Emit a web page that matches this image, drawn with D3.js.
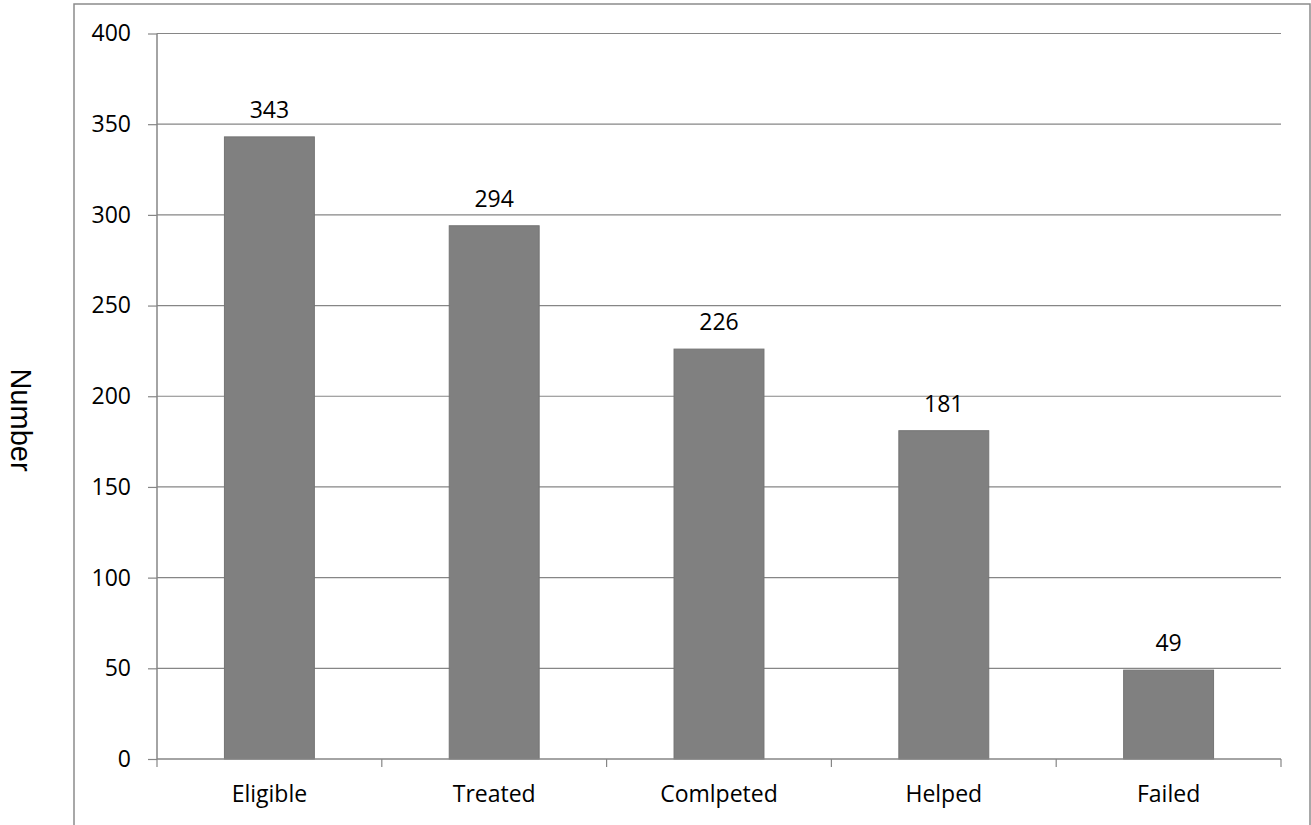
<!DOCTYPE html>
<html>
<head>
<meta charset="utf-8">
<script src="https://cdn.jsdelivr.net/npm/d3@7"></script>
<style>
body { margin: 0; background: #fff; }
</style>
</head>
<body>
<script>
var categories = ["Eligible", "Treated", "Comlpeted", "Helped", "Failed"];
var values = [343, 294, 226, 181, 49];
var yTicks = [0, 50, 100, 150, 200, 250, 300, 350, 400];

var width = 1311;
var height = 825;
var plot = { left: 157, right: 1281, top: 33.5, bottom: 759 };
var font = "'Open Sans', sans-serif";

var svg = d3.select("body")
    .append("svg")
    .attr("width", width)
    .attr("height", height);

// outer chart frame (bottom edge is cut off)
svg.append("path")
    .attr("d", "M74,830 L74,4 L1310,4 L1310,830")
    .attr("fill", "none")
    .attr("stroke", "#8c8c8c")
    .attr("stroke-width", 1.5);

var x = d3.scaleBand()
    .domain(categories)
    .range([plot.left, plot.right])
    .paddingInner(0.6)
    .paddingOuter(0.3);

var y = d3.scaleLinear()
    .domain([0, 400])
    .range([plot.bottom, plot.top]);

// gridlines + y ticks
var yAxis = svg.append("g")
    .attr("transform", "translate(" + plot.left + ",0)")
    .call(d3.axisLeft(y).tickValues(yTicks).tickSize(9).tickPadding(17));
yAxis.select(".domain").remove();
yAxis.selectAll(".tick line").attr("stroke", "#868686").attr("stroke-width", 1.2);
yAxis.selectAll(".tick text")
    .attr("font-family", font)
    .attr("font-size", "23px")
    .attr("fill", "#000");

svg.append("g").selectAll("line")
    .data(yTicks.filter(function(d) { return d > 0; }))
    .enter()
    .append("line")
    .attr("x1", plot.left)
    .attr("x2", plot.right)
    .attr("y1", function(d) { return y(d); })
    .attr("y2", function(d) { return y(d); })
    .attr("stroke", "#868686")
    .attr("stroke-width", 1.2);

// bars
svg.append("g").selectAll("rect")
    .data(values)
    .enter()
    .append("rect")
    .attr("x", function(d, i) { return x(categories[i]); })
    .attr("y", function(d) { return y(d); })
    .attr("width", x.bandwidth())
    .attr("height", function(d) { return y(0) - y(d); })
    .attr("fill", "#808080")
    .attr("stroke", "#747474")
    .attr("stroke-width", 1);

// data labels
svg.append("g").selectAll("text")
    .data(values)
    .enter()
    .append("text")
    .attr("x", function(d, i) { return x(categories[i]) + x.bandwidth() / 2; })
    .attr("y", function(d) { return y(d) - 19; })
    .attr("text-anchor", "middle")
    .attr("font-family", font)
    .attr("font-size", "23px")
    .attr("fill", "#000")
    .text(function(d) { return d; });

// y axis line
svg.append("line")
    .attr("x1", plot.left).attr("x2", plot.left)
    .attr("y1", plot.top).attr("y2", plot.bottom)
    .attr("stroke", "#868686")
    .attr("stroke-width", 1.5);

// x axis with ticks between categories
var step = (plot.right - plot.left) / categories.length;
svg.append("line")
    .attr("x1", plot.left).attr("x2", plot.right)
    .attr("y1", plot.bottom).attr("y2", plot.bottom)
    .attr("stroke", "#868686")
    .attr("stroke-width", 1.5);

svg.append("g").selectAll("line")
    .data(d3.range(categories.length + 1))
    .enter()
    .append("line")
    .attr("x1", function(i) { return plot.left + i * step; })
    .attr("x2", function(i) { return plot.left + i * step; })
    .attr("y1", plot.bottom)
    .attr("y2", plot.bottom + 8)
    .attr("stroke", "#868686")
    .attr("stroke-width", 1.2);

svg.append("g").selectAll("text")
    .data(categories)
    .enter()
    .append("text")
    .attr("x", function(d) { return x(d) + x.bandwidth() / 2; })
    .attr("y", 802)
    .attr("text-anchor", "middle")
    .attr("font-family", font)
    .attr("font-size", "23px")
    .attr("fill", "#000")
    .text(function(d) { return d; });

// y axis title, rotated clockwise
svg.append("text")
    .attr("transform", "translate(11,420) rotate(90)")
    .attr("text-anchor", "middle")
    .attr("font-family", "'Liberation Sans', Arial, sans-serif")
    .attr("font-size", "29px")
    .attr("fill", "#000")
    .text("Number");
</script>
</body>
</html>
